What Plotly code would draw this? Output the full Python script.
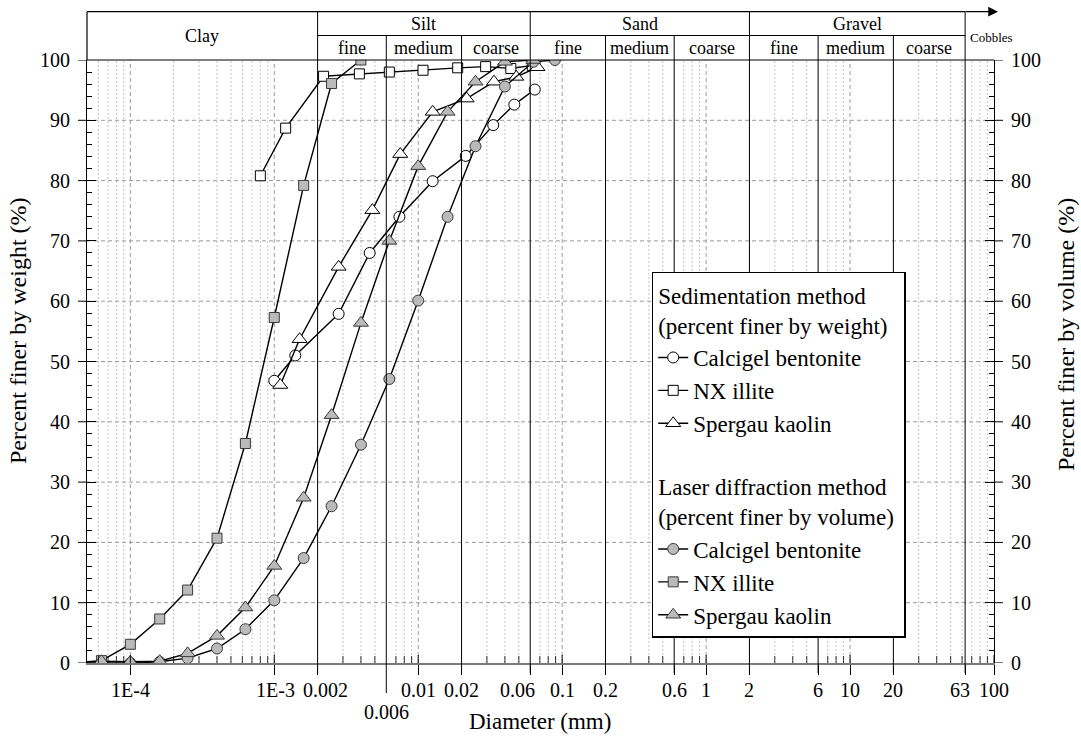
import math
import plotly.graph_objects as go

# ---------------- data ----------------
# Laser diffraction (percent finer by volume)
calcigel_laser_d = [4.0e-5, 6.3e-5, 1.0e-4, 1.6e-4, 2.5e-4, 4.0e-4, 6.3e-4, 1.0e-3, 1.6e-3,
                    2.5e-3, 4.0e-3, 6.3e-3, 0.010, 0.016, 0.025, 0.040, 0.063, 0.089]
calcigel_laser_p = [0, 0, 0, 0.2, 0.8, 2.4, 5.6, 10.4, 17.4,
                    26.0, 36.2, 47.1, 60.1, 74.0, 85.7, 95.6, 99.7, 100]
nx_laser_d = [4.0e-5, 6.3e-5, 1.0e-4, 1.6e-4, 2.5e-4, 4.0e-4, 6.3e-4, 1.0e-3, 1.6e-3, 2.5e-3, 4.0e-3]
nx_laser_p = [0, 0.4, 3.1, 7.3, 12.1, 20.7, 36.4, 57.3, 79.2, 96.1, 100]
spergau_laser_d = [4.0e-5, 6.3e-5, 1.0e-4, 1.6e-4, 2.5e-4, 4.0e-4, 6.3e-4, 1.0e-3, 1.6e-3,
                   2.5e-3, 4.0e-3, 6.3e-3, 0.010, 0.016, 0.025, 0.040, 0.063]
spergau_laser_p = [0, 0.3, 0.2, 0.3, 1.6, 4.5, 9.2, 16.1, 27.4,
                   41.1, 56.4, 70.0, 82.4, 91.4, 96.4, 99.7, 100]

# Sedimentation (percent finer by weight)
calcigel_sed_d = [1.0e-3, 1.4e-3, 2.8e-3, 4.6e-3, 7.4e-3, 0.0126, 0.0214, 0.0332, 0.0465, 0.0645]
calcigel_sed_p = [46.8, 51.0, 57.9, 68.0, 74.0, 79.9, 84.1, 89.2, 92.6, 95.1]
nx_sed_d = [8.0e-4, 1.2e-3, 2.2e-3, 3.9e-3, 6.3e-3, 0.0108, 0.0188, 0.0294, 0.044, 0.062]
nx_sed_p = [80.8, 88.7, 97.3, 97.7, 98.0, 98.3, 98.7, 98.9, 98.6, 99.1]
spergau_sed_d = [1.1e-3, 1.5e-3, 2.8e-3, 4.8e-3, 7.5e-3, 0.0126, 0.0217, 0.0336, 0.048, 0.0674]
spergau_sed_p = [46.1, 53.7, 65.7, 75.1, 84.4, 91.4, 93.6, 96.4, 97.2, 98.8]

# axis ticks
x_tickvals = [1e-4, 1e-3, 0.002, 0.006, 0.01, 0.02, 0.06, 0.1, 0.2, 0.6, 1, 2, 6, 10, 20, 63, 100]
x_ticktext = ["1E-4", "1E-3", "0.002", "0.006", "0.01", "0.02", "0.06", "0.1", "0.2", "0.6",
              "1", "2", "6", "10", "20", "63", "100"]
y_tickvals = list(range(0, 101, 10))

# soil classification boundaries (mm)
main_bounds = [0.002, 0.06, 2, 63]
sub_bounds = [0.006, 0.02, 0.2, 0.6, 6, 20]
main_labels = [("Clay", 5e-5, 0.002), ("Silt", 0.002, 0.06), ("Sand", 0.06, 2), ("Gravel", 2, 63)]
sub_labels = [("fine", 0.002, 0.006), ("medium", 0.006, 0.02), ("coarse", 0.02, 0.06),
              ("fine", 0.06, 0.2), ("medium", 0.2, 0.6), ("coarse", 0.6, 2),
              ("fine", 2, 6), ("medium", 6, 20), ("coarse", 20, 63)]

# ---------------- layout geometry ----------------
W, H = 1081, 740
ML, MR, MT, MB = 87, 87, 60, 77
PW, PH = W - ML - MR, H - MT - MB
XMIN, XMAX = 5e-5, 100
L0, L1 = math.log10(XMIN), math.log10(XMAX)
FONT = "'Liberation Serif', 'Times New Roman', 'DejaVu Serif', serif"

# label nudges (px) for crowded tick labels, as in the original
label_shift = {"1E-3": 1, "0.002": 8, "0.06": -13, "63": -5}
label_drop = {"0.006": 22}


def xp(d):
    return (math.log10(d) - L0) / (L1 - L0)


def xpx(px):
    return (px - ML) / PW


def ypx(py):
    return (MT + PH - py) / PH


HDR_TOP = ypx(11.7)
HDR_MID = ypx(35.5)

fig = go.Figure()

gray_fill = "#bababa"
gray_edge = "#3a3a3a"
line_style = dict(color="black", width=1.4)

series = [
    ("Calcigel bentonite", calcigel_laser_d, calcigel_laser_p, "circle", 11, "laser", 4),
    ("NX illite", nx_laser_d, nx_laser_p, "square", 10, "laser", 5),
    ("Spergau kaolin", spergau_laser_d, spergau_laser_p, "triangle-up", 13, "laser", 6),
    ("Calcigel bentonite", calcigel_sed_d, calcigel_sed_p, "circle", 11, "sed", 1),
    ("NX illite", nx_sed_d, nx_sed_p, "square", 10, "sed", 2),
    ("Spergau kaolin", spergau_sed_d, spergau_sed_p, "triangle-up", 13, "sed", 3),
]
for name, xs, ys, sym, size, grp, rank in series:
    laser = grp == "laser"
    fig.add_trace(go.Scatter(
        x=xs, y=ys, name=name, mode="lines+markers",
        line=line_style,
        marker=dict(symbol=sym, size=size,
                    color=gray_fill if laser else "white",
                    line=dict(color=gray_edge if laser else "black", width=1)),
        yaxis="y2" if laser else "y",
        legendgroup=grp, legendrank=rank,
        legendgrouptitle=dict(
            text=("Laser diffraction method<br>(percent finer by volume)" if laser
                  else "Sedimentation method<br>(percent finer by weight)"),
            font=dict(family=FONT, size=23, color="black")),
    ))

shapes = []
# horizontal dashed grid
for v in range(10, 100, 10):
    shapes.append(dict(type="line", xref="paper", yref="y", x0=0, x1=1, y0=v, y1=v,
                       line=dict(color="#9a9a9a", width=1, dash="4px,3px"), layer="below"))

# vertical grid: decades dashed, minor dotted, boundaries solid
all_bounds = set(main_bounds + sub_bounds)
for k in range(-5, 3):
    for m in range(1, 10):
        d = m * 10 ** k
        d = float(f"{d:.10g}")
        if d <= XMIN * 1.0001 or d > XMAX * 1.0001:
            continue
        if d in all_bounds:
            continue
        if m == 1:
            if d < XMAX * 0.999:
                shapes.append(dict(type="line", xref="x", yref="y", x0=d, x1=d, y0=0, y1=100,
                                   line=dict(color="#9a9a9a", width=1, dash="4px,3px"), layer="below"))
            shapes.append(dict(type="line", xref="paper", yref="paper", x0=xp(d), x1=xp(d),
                               y0=0, y1=8 / PH, line=dict(color="black", width=1)))
        else:
            shapes.append(dict(type="line", xref="x", yref="y", x0=d, x1=d, y0=0, y1=100,
                               line=dict(color="#b5b5b5", width=0.8, dash="2px,2px"), layer="below"))
            shapes.append(dict(type="line", xref="paper", yref="paper", x0=xp(d), x1=xp(d),
                               y0=0, y1=7 / PH, line=dict(color="black", width=0.8)))

# solid boundary lines through plot, header and below axis
for d in main_bounds + sub_bounds:
    top = HDR_TOP if d in main_bounds else HDR_MID
    bottom = ypx(693) if d == 0.006 else ypx(673)
    shapes.append(dict(type="line", xref="paper", yref="paper", x0=xp(d), x1=xp(d),
                       y0=bottom, y1=top, line=dict(color="black", width=1)))

# header table lines
shapes.append(dict(type="line", xref="paper", yref="paper", x0=0, x1=xp(63), y0=HDR_TOP, y1=HDR_TOP,
                   line=dict(color="black", width=1.2)))
shapes.append(dict(type="line", xref="paper", yref="paper", x0=xp(0.002), x1=xp(63), y0=HDR_MID, y1=HDR_MID,
                   line=dict(color="black", width=1)))
shapes.append(dict(type="line", xref="paper", yref="paper", x0=0, x1=0, y0=1, y1=HDR_TOP,
                   line=dict(color="black", width=1.2)))
shapes.append(dict(type="line", xref="paper", yref="paper", x0=0, x1=1, y0=1, y1=1,
                   line=dict(color="black", width=1.2)))

# y ticks: outside part of major ticks (crossing the spines)
for v in y_tickvals:
    shapes.append(dict(type="line", xref="paper", yref="y", x0=-9 / PW, x1=0, y0=v, y1=v,
                       line=dict(color="black", width=1)))
    shapes.append(dict(type="line", xref="paper", yref="y", x0=1, x1=1 + 9 / PW, y0=v, y1=v,
                       line=dict(color="black", width=1)))

annotations = []
tickfont = dict(family=FONT, size=20, color="black")
# x tick labels (placed at the tick positions, nudged where crowded)
for v, t in zip(x_tickvals, x_ticktext):
    annotations.append(dict(text=t, xref="paper", yref="paper", x=xp(v), y=ypx(690 + label_drop.get(t, 0)),
                            xshift=label_shift.get(t, 0), showarrow=False, font=tickfont,
                            xanchor="center", yanchor="middle"))

hdr_font = dict(family=FONT, size=18, color="black")
for text, a, b in main_labels:
    xc = (xp(a) + xp(b)) / 2
    yc = ypx(36) if text == "Clay" else ypx(24)
    annotations.append(dict(text=text, xref="paper", yref="paper", x=xc, y=yc,
                            showarrow=False, font=hdr_font, xanchor="center", yanchor="middle"))
for text, a, b in sub_labels:
    xc = (xp(a) + xp(b)) / 2
    annotations.append(dict(text=text, xref="paper", yref="paper", x=xc, y=ypx(48),
                            showarrow=False, font=hdr_font, xanchor="center", yanchor="middle"))
annotations.append(dict(text="Cobbles", xref="paper", yref="paper", x=xpx(991), y=ypx(37),
                        showarrow=False, font=dict(family=FONT, size=13, color="black"),
                        xanchor="center", yanchor="middle"))
# arrow at end of header
annotations.append(dict(text="", xref="paper", yref="paper", x=xpx(998), y=HDR_TOP,
                        ax=-34, ay=0, showarrow=True, arrowhead=2, arrowsize=1.5,
                        arrowwidth=1.3, arrowcolor="black"))
# axis titles
annotations.append(dict(text="Diameter (mm)", xref="paper", yref="paper", x=xpx(540), y=ypx(721),
                        showarrow=False, font=dict(family=FONT, size=23, color="black"),
                        xanchor="center", yanchor="middle"))
annotations.append(dict(text="Percent finer by weight (%)", xref="paper", yref="paper",
                        x=xpx(18), y=ypx(331), textangle=-90, showarrow=False,
                        font=dict(family=FONT, size=24, color="black"),
                        xanchor="center", yanchor="middle"))
annotations.append(dict(text="Percent finer by volume (%)", xref="paper", yref="paper",
                        x=xpx(1066), y=ypx(335), textangle=-90, showarrow=False,
                        font=dict(family=FONT, size=24, color="black"),
                        xanchor="center", yanchor="middle"))

fig.update_layout(
    width=W, height=H,
    margin=dict(l=ML, r=MR, t=MT, b=MB),
    paper_bgcolor="white", plot_bgcolor="white",
    font=dict(family=FONT, size=20, color="black"),
    xaxis=dict(type="log", range=[L0, L1], showgrid=False, zeroline=False,
               tickmode="array", tickvals=[v for v in x_tickvals if v != 0.006],
               showticklabels=False,
               ticks="outside", ticklen=10, tickwidth=1, tickcolor="black",
               showline=True, linecolor="#7a7a7a", linewidth=2),
    yaxis=dict(range=[0, 100], showgrid=False, zeroline=False,
               tickmode="array", tickvals=y_tickvals,
               ticks="inside", ticklen=9, tickwidth=1, tickcolor="black",
               minor=dict(ticks="inside", ticklen=5, dtick=2, tickcolor="black", tickwidth=1,
                          showgrid=False),
               showline=True, linecolor="black", linewidth=1.2,
               ticklabelstandoff=12, tickfont=tickfont),
    yaxis2=dict(range=[0, 100], overlaying="y", side="right", showgrid=False, zeroline=False,
                tickmode="array", tickvals=y_tickvals,
                ticks="inside", ticklen=9, tickwidth=1, tickcolor="black",
                minor=dict(ticks="inside", ticklen=5, dtick=2, tickcolor="black", tickwidth=1,
                           showgrid=False),
                showline=True, linecolor="black", linewidth=1.2,
                ticklabelstandoff=12, tickfont=tickfont),
    legend=dict(x=xpx(651.7), y=ypx(271.7), xanchor="left", yanchor="top",
                bgcolor="white", bordercolor="black", borderwidth=1.5,
                font=dict(family=FONT, size=23, color="black"),
                traceorder="grouped", tracegroupgap=30, itemsizing="trace", itemwidth=30),
    shapes=shapes,
    annotations=annotations,
)

fig.write_html("out.html")
